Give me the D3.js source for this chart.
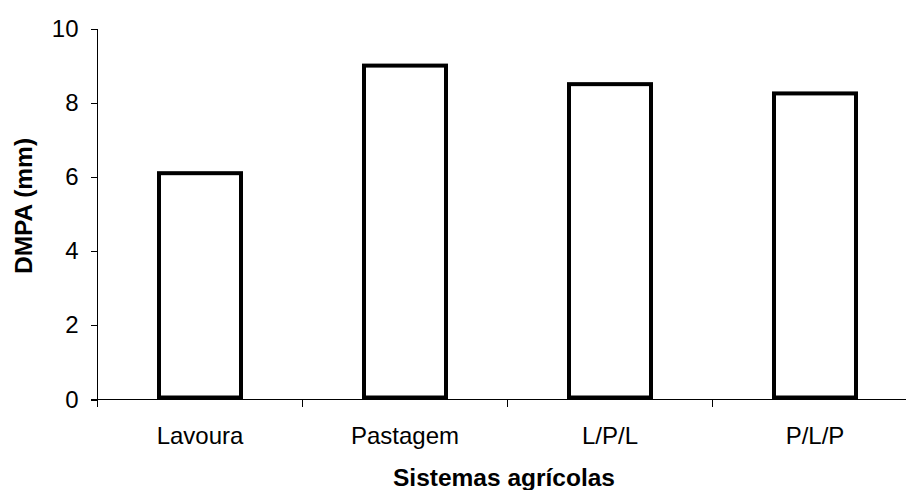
<!DOCTYPE html>
<html>
<head>
<meta charset="utf-8">
<script src="https://cdn.jsdelivr.net/npm/d3@7"></script>
<style>
  body { margin: 0; background: #fff; }
  svg { display: block; font-family: "Liberation Sans", Arial, sans-serif; }
  .axis path, .axis line { stroke: #000; shape-rendering: crispEdges; }
  .axis text { font-size: 24px; fill: #000; }
</style>
</head>
<body>
<svg id="chart" width="906" height="490"></svg>
<script>
  var categories = ['Lavoura', 'Pastagem', 'L/P/L', 'P/L/P'];
  var values = [6.1, 9.0, 8.5, 8.25];
  var yTicks = [0, 2, 4, 6, 8, 10];

  var svg = d3.select('#chart');
  // note: "top" clashes with window.top, so plot* names
  var plotLeft = 97.5, plotRight = 917.5, plotTop = 28.5, plotBottom = 399.5;

  var x = d3.scaleBand()
    .domain(categories)
    .range([plotLeft, plotRight])
    .paddingInner(0.6)
    .paddingOuter(0.3);

  var y = d3.scaleLinear()
    .domain([0, 10])
    .range([plotBottom, plotTop]);

  // y axis
  var yAxis = svg.append('g')
    .attr('class', 'axis')
    .attr('transform', 'translate(' + plotLeft + ',0)')
    .call(d3.axisLeft(y).tickValues(yTicks).tickSizeInner(7).tickSizeOuter(0).tickPadding(12));
  yAxis.select('.domain').attr('d', 'M0,' + plotTop + 'V' + (plotBottom + 7));

  // x axis, ticks at the category boundaries
  var xAxis = svg.append('g')
    .attr('class', 'axis')
    .attr('transform', 'translate(0,' + plotBottom + ')');
  xAxis.append('path')
    .attr('class', 'domain')
    .attr('d', 'M' + (plotLeft - 7) + ',0H' + plotRight)
    .attr('fill', 'none');
  var step = x.step();
  var bounds = d3.range(categories.length + 1).map(function(i) { return plotLeft + i * step; });
  xAxis.selectAll('line.bound')
    .data(bounds)
    .enter()
    .append('line')
    .attr('class', 'bound')
    .attr('x1', function(d) { return d; })
    .attr('x2', function(d) { return d; })
    .attr('y1', 0)
    .attr('y2', 7);
  xAxis.selectAll('text')
    .data(categories)
    .enter()
    .append('text')
    .attr('x', function(d) { return x(d) + x.bandwidth() / 2; })
    .attr('y', 44)
    .attr('text-anchor', 'middle')
    .text(function(d) { return d; });

  // bars
  svg.append('g')
    .selectAll('rect')
    .data(values)
    .enter()
    .append('rect')
    .attr('x', function(d, i) { return x(categories[i]); })
    .attr('y', function(d) { return y(d); })
    .attr('width', x.bandwidth())
    .attr('height', function(d) { return plotBottom - 2 - y(d); })
    .attr('fill', '#fff')
    .attr('stroke', '#000')
    .attr('stroke-width', 4)
    .attr('stroke-linejoin', 'miter');

  // titles
  svg.append('text')
    .attr('x', 504)
    .attr('y', 486)
    .attr('text-anchor', 'middle')
    .attr('font-size', 24.5)
    .attr('font-weight', 'bold')
    .text('Sistemas agrícolas');

  svg.append('text')
    .attr('transform', 'translate(32,206) rotate(-90)')
    .attr('text-anchor', 'middle')
    .attr('font-size', 24.5)
    .attr('font-weight', 'bold')
    .text('DMPA (mm)');
</script>
</body>
</html>
